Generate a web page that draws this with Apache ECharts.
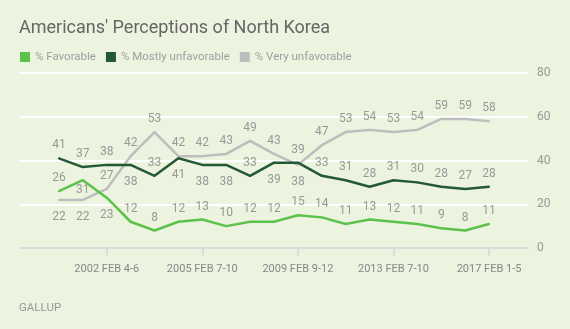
<!DOCTYPE html>
<html>
<head>
<meta charset="utf-8">
<script src="https://cdn.jsdelivr.net/npm/echarts@6/dist/echarts.min.js"></script>
<style>
html,body{margin:0;padding:0;background:#ecf3de;}
#chart{width:570px;height:329px;}
</style>
</head>
<body>
<div id="chart"></div>
<script>
const categories = ["2000 NOV 13-15","2001 FEB 1-4","2002 FEB 4-6","2003 FEB 3-6","2003 MAR 14-15","2004 FEB 9-12","2005 FEB 7-10","2006 FEB 6-9","2007 FEB 1-4","2008 FEB 11-14","2009 FEB 9-12","2010 FEB 1-3","2011 FEB 2-5","2012 FEB 2-5","2013 FEB 7-10","2014 FEB 6-9","2015 FEB 8-11","2016 FEB 3-7","2017 FEB 1-5"];
const favorable = [26,31,23,12,8,12,13,10,12,12,15,14,11,13,12,11,9,8,11];
const mostlyUnfavorable = [41,37,38,38,33,41,38,38,33,39,39,33,31,28,31,30,28,27,28];
const veryUnfavorable = [22,22,27,42,53,42,42,43,49,43,38,47,53,54,53,54,59,59,58];
const shownLabels = [2,6,10,14,18];
const yTicks = [0,20,40,60,80];

// label placement (style)
const favPos = ['top','bottom','bottom'];
const mostlyPos = {3:'bottom',5:'bottom',6:'bottom',7:'bottom',9:'bottom'};
const veryPos = {0:'bottom',1:'bottom',10:'bottom'};
const closeLabels = {fav:{1:true}};

function build(vals, posFn, key){
  return vals.map((v,i)=>{
    const pos = posFn(i);
    let dist = pos==='bottom' ? 10 : 6;
    if (closeLabels[key] && closeLabels[key][i]) dist = 3;
    return {value:[i,v], label:{show:true, position:pos, distance:dist}};
  });
}

const chart = echarts.init(document.getElementById('chart'));
const labelStyle = {show:true, color:'#999', fontSize:12, fontFamily:'Roboto', distance:6, opacity:1,
  formatter: p=>String(Array.isArray(p.value)?p.value[1]:p.value)};
function mkSeries(name, color, vals, posFn, z, key){
  return {name:name, type:'line', showSymbol:true, showAllSymbol:true, symbol:'circle', symbolSize:2, color:color,
    itemStyle:{color:color},
    lineStyle:{width:2.5, color:color}, label:labelStyle, z:z, labelLayout:{hideOverlap:false},
    data:build(vals, posFn, key)};
}
chart.setOption({
  backgroundColor:'#ecf3de',
  animation:false,
  title:[{
    text:"Americans' Perceptions of North Korea",
    left:14, top:14,
    textStyle:{color:'#666', fontSize:18, fontWeight:'normal', fontFamily:'Roboto'}
  },{
    text:'GALLUP', left:14, top:297,
    textStyle:{color:'#999', fontSize:11.5, fontWeight:'normal', fontFamily:'Roboto'}
  }],
  legend:{
    left:20, top:51, padding:0, icon:'rect', itemWidth:10, itemHeight:10, itemGap:10,
    textStyle:{color:'#a0a0a0', fontSize:11.5, fontFamily:'Roboto'},
    data:['% Favorable','% Mostly unfavorable','% Very unfavorable']
  },
  grid:{left:20, right:42, top:73, bottom:81},
  xAxis:{
    type:'value', min:-1.63, max:19.63,
    splitLine:{show:false},
    axisLine:{show:true, onZero:true, lineStyle:{color:'#dcdcdc', width:2}},
    axisTick:{show:true, customValues:shownLabels, length:8, lineStyle:{color:'#dcdcdc', width:2}},
    axisLabel:{customValues:shownLabels, formatter:v=>categories[v], color:'#888', fontSize:11, fontFamily:'Roboto', margin:16}
  },
  yAxis:{
    type:'value', position:'right', min:0, max:80, interval:20,
    axisLine:{show:false}, axisTick:{show:false},
    splitLine:{show:true, lineStyle:{color:'#ffffff', width:2}},
    axisLabel:{color:'#999', fontSize:12, fontFamily:'Roboto', margin:9, formatter:v=>yTicks.includes(v)?String(v):''}
  },
  series:[
    mkSeries('% Very unfavorable', '#bdbdbd', veryUnfavorable, i=>veryPos[i]||'top', 2, 'very'),
    mkSeries('% Mostly unfavorable', '#245a33', mostlyUnfavorable, i=>mostlyPos[i]||'top', 3, 'mostly'),
    mkSeries('% Favorable', '#5dc24c', favorable, i=>favPos[i]||'top', 4, 'fav')
  ]
});
</script>
</body>
</html>
